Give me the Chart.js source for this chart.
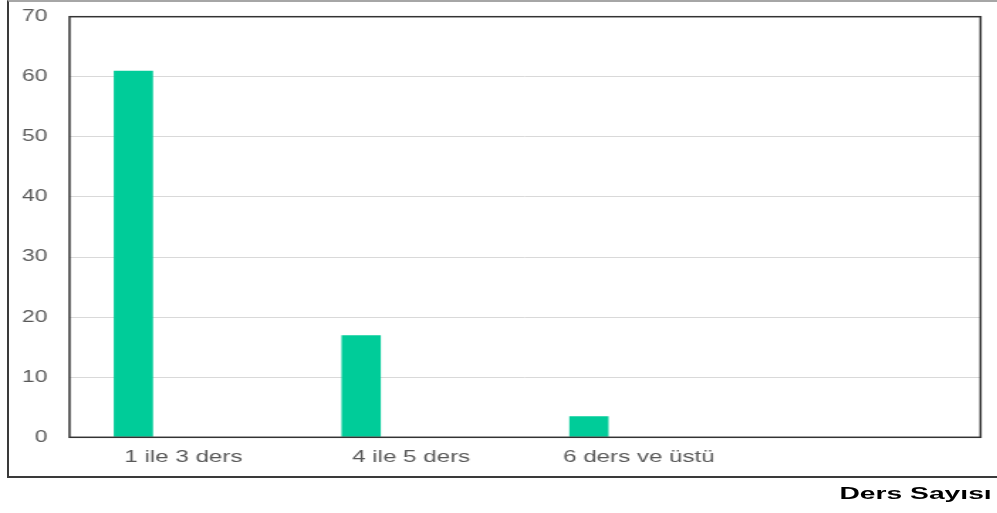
<html lang="tr">
<head>
    <meta charset="UTF-8">
    <title>Ders Sayısı</title>
    <script src="https://cdn.jsdelivr.net/npm/chart.js"></script>
    <style>
        body {
            margin: 0;
            width: 997px;
            height: 513px;
            overflow: hidden;
            background: #fff;
            font-family: "Liberation Sans", Arial, sans-serif;
            position: relative;
        }
        .outer-frame {
            position: absolute;
            left: 7px;
            top: 0;
            width: 1010px;
            height: 474px;
            border-left: 2px solid #3a3a3a;
            border-bottom: 2px solid #3a3a3a;
            border-top: 2px solid #a6a6a6;
        }
        /* the reference is stretched horizontally, so the chart is drawn narrow and widened */
        #chart-wrap {
            position: absolute;
            left: 0;
            top: 0;
            width: 702px;
            height: 513px;
            transform: scaleX(1.4202);
            transform-origin: 0 0;
        }
        .axis-name {
            position: absolute;
            right: 5px;
            top: 485px;
            font-size: 17px;
            line-height: 17px;
            font-weight: bold;
            color: #000;
            white-space: nowrap;
            transform: scaleX(1.66);
            transform-origin: right center;
        }
    </style>
</head>
<body>
    <div class="outer-frame"></div>
    <div id="chart-wrap">
        <canvas id="dersChart"></canvas>
    </div>
    <div class="axis-name">Ders Sayısı</div>

    <script>
        const categories = ['1 ile 3 ders', '4 ile 5 ders', '6 ders ve üstü', ''];
        const dersValues = [61, 17, 3.5, null];
        const emptyValues = [null, null, null, null];
        const yTicks = [0, 10, 20, 30, 40, 50, 60, 70];

        // plot area frame (all four sides)
        const plotFrame = {
            id: 'plotFrame',
            afterDatasetsDraw(chart) {
                const { ctx, chartArea: a } = chart;
                ctx.save();
                ctx.strokeStyle = '#333';
                ctx.lineWidth = 1.5;
                ctx.strokeRect(a.left, a.top, a.right - a.left, a.bottom - a.top);
                ctx.restore();
            }
        };

        const ctx = document.getElementById('dersChart').getContext('2d');
        new Chart(ctx, {
            type: 'bar',
            data: {
                labels: categories,
                datasets: [{
                    label: 'Ders Sayısı',
                    data: dersValues,
                    backgroundColor: '#00cc99',
                    borderWidth: 0,
                    categoryPercentage: 0.878,
                    barPercentage: 0.393
                }, {
                    label: '',
                    data: emptyValues,
                    backgroundColor: '#00cc99',
                    categoryPercentage: 0.878,
                    barPercentage: 0.393
                }]
            },
            options: {
                responsive: true,
                maintainAspectRatio: false,
                animation: false,
                layout: {
                    padding: { top: 16.7, right: 11.6, left: 0, bottom: 0 }
                },
                plugins: {
                    legend: { display: false },
                    tooltip: { enabled: false }
                },
                scales: {
                    x: {
                        grid: { display: false, drawTicks: false },
                        border: { display: false },
                        ticks: {
                            color: '#595959',
                            font: { family: 'Liberation Sans', size: 17 },
                            padding: 10,
                            maxRotation: 0,
                            autoSkip: false
                        },
                        afterFit(scale) { scale.height = 75.7; }
                    },
                    y: {
                        min: yTicks[0],
                        max: yTicks[yTicks.length - 1],
                        grid: { color: '#d9d9d9', lineWidth: 1, drawTicks: false },
                        border: { display: false },
                        ticks: {
                            stepSize: 10,
                            color: '#595959',
                            font: { family: 'Liberation Sans', size: 16 },
                            padding: 15.6
                        },
                        afterFit(scale) {
                            scale.width = 48.94;
                            scale.paddingTop = 0;
                            scale.paddingBottom = 0;
                        }
                    }
                }
            },
            plugins: [plotFrame]
        });
    </script>
</body>
</html>
